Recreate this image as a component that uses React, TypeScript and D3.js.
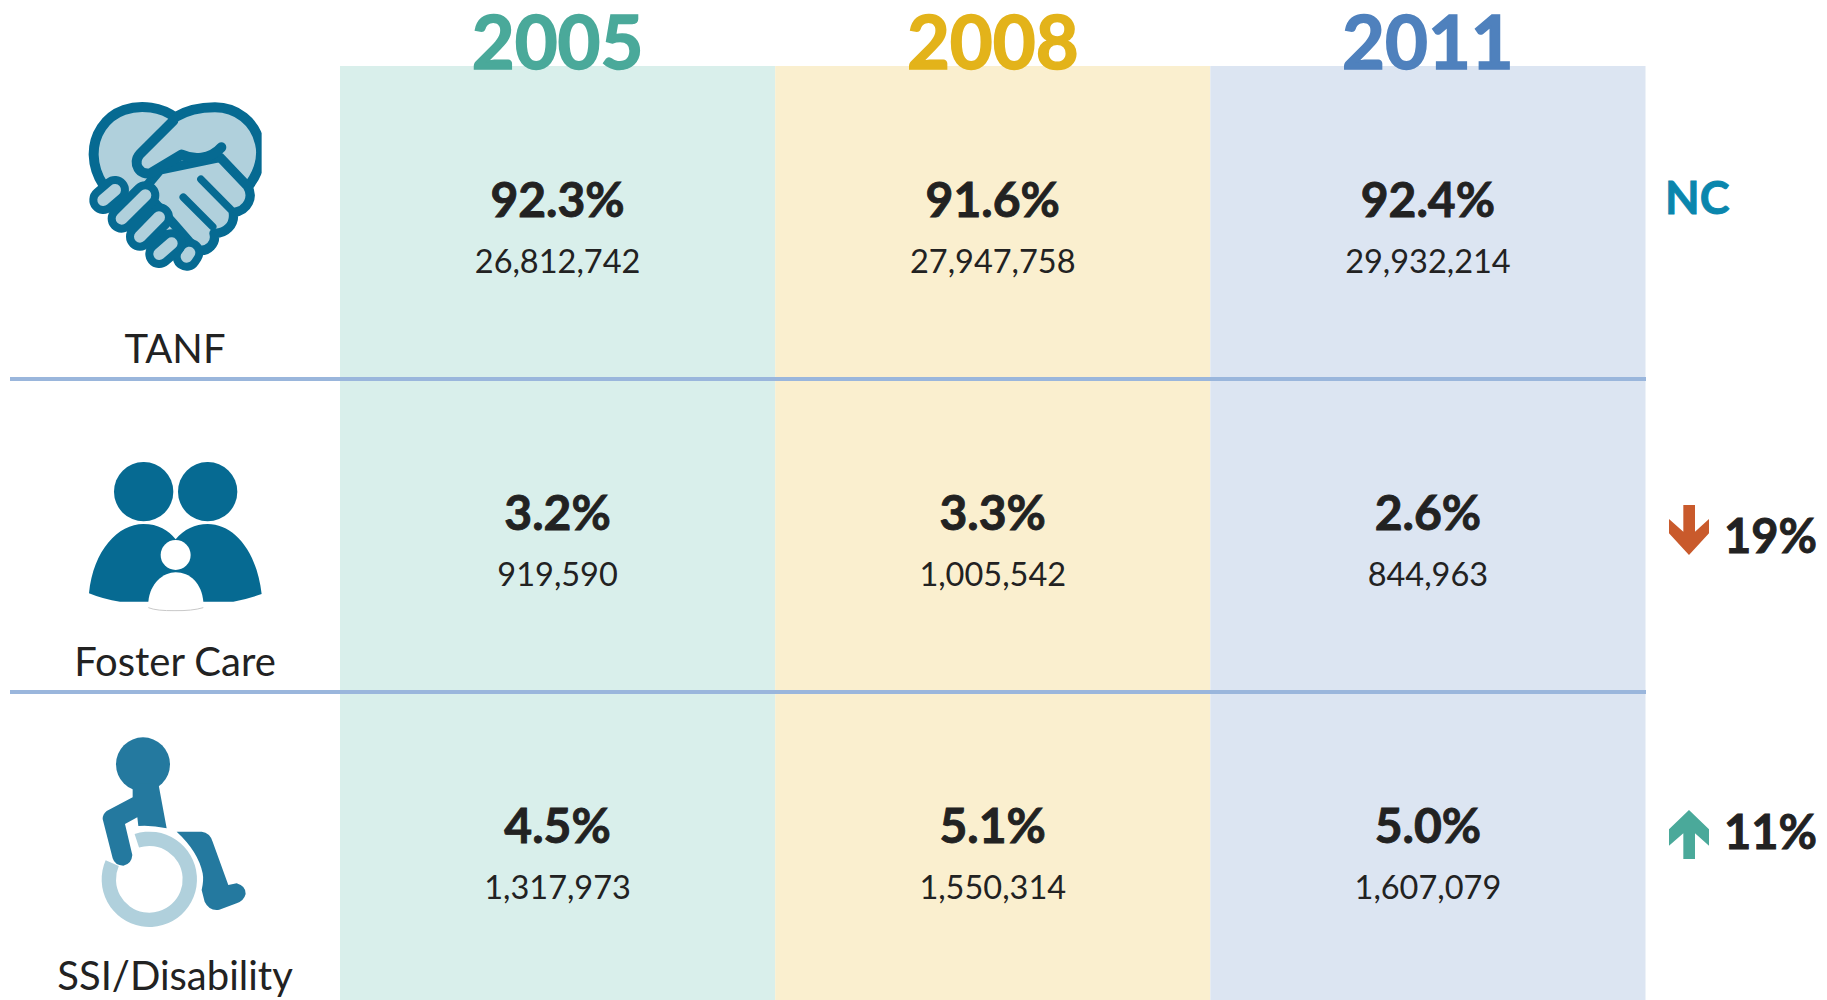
import * as d3 from "d3";

const years = ["2005", "2008", "2011"];
const programs = ["TANF", "Foster Care", "SSI/Disability"];
const shares = [
  [92.3, 91.6, 92.4],
  [3.2, 3.3, 2.6],
  [4.5, 5.1, 5.0],
];
const counts = [
  [26812742, 27947758, 29932214],
  [919590, 1005542, 844963],
  [1317973, 1550314, 1607079],
];
const changes = ["NC", "19%", "11%"];

const panelColors = ["#d9efeb", "#faefcf", "#dce5f2"];
const yearColors = ["#4aa99a", "#e3b31a", "#4f81bd"];
const ink = "#222222";
const darkTeal = "#066a92";
const midTeal = "#24799f";
const paleTeal = "#b0d0dc";
const font = "Lato, Carlito, sans-serif";

const W = 1827;
const H = 1000;

const xCol = d3.scaleBand<string>().domain(years).range([340, 1645.5]);
const yRow = d3.scaleBand<string>().domain(programs).range([66, 1005]);
const fmtShare = (v: number) => d3.format(".1f")(v) + "%";
const fmtCount = d3.format(",");

// icons are traced in the 3x pixel grid of their own box
const finger = (d: string, key: string) => (
  <g key={key} fill="none" strokeLinecap="round">
    <path d={d} stroke={darkTeal} strokeWidth={84} />
    <path d={d} stroke={paleTeal} strokeWidth={36} />
  </g>
);

const HandshakeIcon = () => (
  <g transform="translate(60,80) scale(0.3333)">
    <defs>
      <clipPath id="heart-clip">
        <rect x={0} y={0} width={605} height={600} />
      </clipPath>
    </defs>
    <g clipPath="url(#heart-clip)">
      <path
        d="M345,112 C305,82 245,72 192,90 C135,110 100,165 101,225 C102,262 112,288 130,315 L380,520 L560,325 C590,290 612,240 600,190 C585,125 530,82 465,82 C420,82 378,92 345,112 Z"
        fill={paleTeal}
        stroke={darkTeal}
        strokeWidth={30}
        strokeLinejoin="round"
      />
    </g>
    {/* right hand */}
    <path
      d="M480,232 L562,318 C582,350 565,392 520,398 C525,435 497,462 462,460 C470,490 445,518 410,510 L340,430 L250,330 L300,270 Z"
      fill={paleTeal}
      stroke={darkTeal}
      strokeWidth={28}
      strokeLinejoin="round"
    />
    <path
      d="M423,298 L512,388 M370,352 L458,440"
      fill="none"
      stroke={darkTeal}
      strokeWidth={23}
      strokeLinecap="round"
    />
    {/* thumb */}
    <path
      d="M340,122 L240,222 C215,250 240,290 275,278 L365,224 C400,240 450,240 484,202"
      fill="none"
      stroke={darkTeal}
      strokeWidth={30}
      strokeLinecap="round"
      strokeLinejoin="round"
    />
    {/* left hand */}
    {finger("M380,530 L388,518", "f5")}
    {finger("M298,522 L335,490", "f4")}
    {finger("M240,470 L297,412", "f3")}
    {finger("M185,416 L256,346", "f2")}
    {finger("M130,360 L165,330", "f1")}
  </g>
);

const FosterIcon = () => (
  <g transform="translate(60,440) scale(0.3333)">
    <defs>
      <clipPath id="foster-clip">
        <rect x={0} y={66} width={780} height={500} />
      </clipPath>
    </defs>
    <g clipPath="url(#foster-clip)" fill={darkTeal}>
      <circle cx={251} cy={155} r={89} />
      <circle cx={443} cy={155} r={89} />
    </g>
    <path
      d="M87,460 C100,330 175,252 250,252 C295,252 325,270 347,298 C372,268 405,252 443,252 C520,252 590,330 605,462 Q560,478 520,485 L180,485 Q130,478 87,460 Z"
      fill={darkTeal}
    />
    <circle cx={347} cy={345} r={45} fill="#ffffff" />
    <path
      d="M265,485 C270,430 310,397 347,397 C390,397 425,430 430,485 L430,505 L265,505 Z"
      fill="#ffffff"
    />
    <path d="M265,503 Q290,513 345,512 Q395,513 430,503" fill="none" stroke="#c8c8c8" strokeWidth={3} />
  </g>
);

const wheelArc = d3.arc()({
  innerRadius: 100,
  outerRadius: 143,
  startAngle: (-18 * Math.PI) / 180,
  endAngle: (293.6 * Math.PI) / 180,
}) as string;

const WheelchairIcon = () => (
  <g transform="translate(60,720) scale(0.3333)">
    <circle cx={249} cy={133} r={81} fill={midTeal} />
    <path
      d="M218,190 L295,190 L320,325 Q275,315 235,318 L232,292 L195,312 L217,405 Q215,432 190,437 Q165,437 158,415 L128,297 Q128,282 140,273 L218,232 Z"
      fill={midTeal}
    />
    <path
      d="M350,335 L425,335 Q450,338 458,365 L505,495 L530,490 Q558,498 557,522 Q552,542 530,550 L478,569 Q448,574 434,545 L425,510 Q432,480 428,460 Q415,395 350,335 Z"
      fill={midTeal}
    />
    <path d={wheelArc} transform="translate(268,478)" fill={paleTeal} />
  </g>
);

const icons = [<HandshakeIcon key="a" />, <FosterIcon key="b" />, <WheelchairIcon key="c" />];

const DownArrow = () => (
  <polygon
    transform="translate(1640,490) scale(0.3333)"
    points="130,45 165,45 165,125 207,87 207,130 147,195 87,130 87,87 130,125"
    fill="#c95a2c"
  />
);

const UpArrow = () => (
  <polygon
    transform="translate(1640,790) scale(0.3333)"
    points="147,60 207,118 207,167 165,130 165,207 130,207 130,130 87,167 87,118"
    fill="#4aa99a"
  />
);

export default function App() {
  const rowH = yRow.bandwidth();
  return (
    <svg
      width={W}
      height={H}
      viewBox={`0 0 ${W} ${H}`}
      style={{ position: "absolute", left: 0, top: 0, background: "#ffffff" }}
      fontFamily={font}
    >
      {years.map((y, i) => (
        <rect
          key={y}
          x={xCol(y)}
          y={66}
          width={xCol.bandwidth()}
          height={H - 66}
          fill={panelColors[i]}
        />
      ))}

      {years.map((y, i) => (
        <text
          key={y}
          x={xCol(y)! + xCol.bandwidth() / 2}
          y={69}
          textAnchor="middle"
          fontSize={74}
          fontWeight={700}
          fill={yearColors[i]}
          stroke={yearColors[i]}
          strokeWidth={1.6}
        >
          {y}
        </text>
      ))}

      {programs.slice(0, 2).map((p) => (
        <line
          key={p}
          x1={10}
          x2={1646}
          y1={yRow(p)! + rowH}
          y2={yRow(p)! + rowH}
          stroke="#9ab6dc"
          strokeWidth={4}
        />
      ))}

      {programs.map((p, r) => (
        <g key={p}>
          {icons[r]}
          <text
            x={175}
            y={yRow(p)! + rowH - 16 + (r === 2 ? 1 : 0)}
            textAnchor="middle"
            fontSize={40}
            fill={ink}
          >
            {p}
          </text>
          {years.map((y, c) => {
            const cx = xCol(y)! + xCol.bandwidth() / 2;
            return (
              <g key={y} textAnchor="middle" fill={ink}>
                <text x={cx} y={yRow(p)! + 151} fontSize={48} fontWeight={700} stroke={ink} strokeWidth={0.9}>
                  {fmtShare(shares[r][c])}
                </text>
                <text x={cx} y={yRow(p)! + 207} fontSize={32.5}>
                  {fmtCount(counts[r][c])}
                </text>
              </g>
            );
          })}
        </g>
      ))}

      <text x={1665} y={214} fontSize={45} fontWeight={700} fill="#0a86ad" stroke="#0a86ad" strokeWidth={0.9}>
        {changes[0]}
      </text>
      <DownArrow />
      <text x={1724} y={553} fontSize={47} fontWeight={700} fill={ink} stroke={ink} strokeWidth={0.9}>
        {changes[1]}
      </text>
      <UpArrow />
      <text x={1724} y={849} fontSize={47} fontWeight={700} fill={ink} stroke={ink} strokeWidth={0.9}>
        {changes[2]}
      </text>
    </svg>
  );
}
